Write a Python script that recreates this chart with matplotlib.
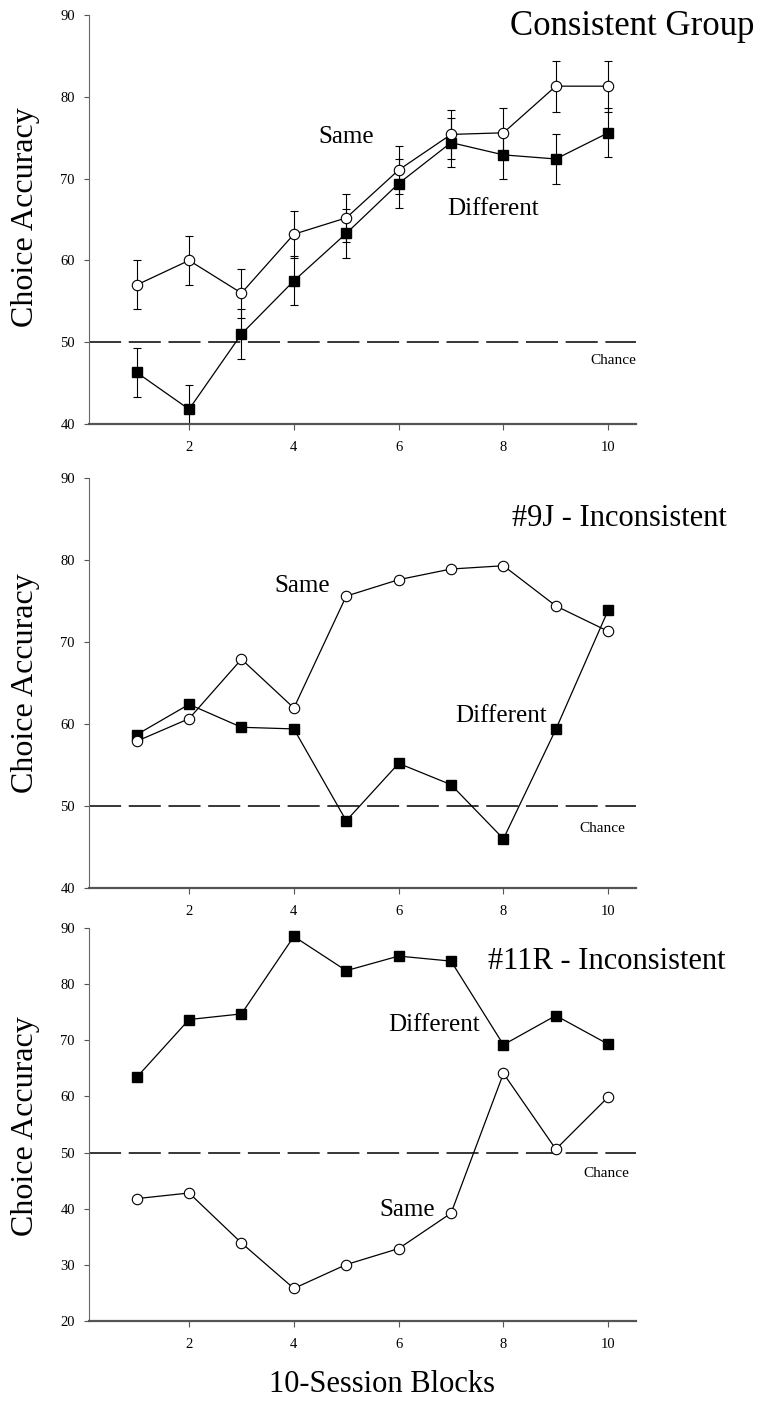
import numpy as np
import matplotlib
matplotlib.use("Agg")
import matplotlib.pyplot as plt

plt.rcParams['font.family'] = ['Liberation Serif', 'DejaVu Serif']

blocks = [1, 2, 3, 4, 5, 6, 7, 8, 9, 10]

# Consistent group (mean +/- SEM)
cons_same = [57.0, 60.0, 56.0, 63.2, 65.2, 71.05, 75.4, 75.6, 81.3, 81.3]
cons_same_err = [3.0, 3.0, 3.0, 2.9, 2.9, 2.9, 3.0, 3.0, 3.1, 3.1]
cons_diff = [46.3, 41.8, 51.0, 57.5, 63.3, 69.4, 74.4, 72.9, 72.4, 75.6]
cons_diff_err = [3.0, 3.0, 3.0, 3.0, 3.0, 3.0, 3.0, 3.0, 3.0, 3.0]

# #9J
j9_same = [57.9, 60.65, 67.9, 61.95, 75.6, 77.6, 78.9, 79.3, 74.4, 71.3]
j9_diff = [58.7, 62.4, 59.6, 59.4, 48.2, 55.2, 52.6, 46.0, 59.35, 73.9]

# #11R
r11_same = [41.8, 42.8, 33.9, 25.8, 30.05, 32.9, 39.2, 64.1, 50.6, 59.9]
r11_diff = [63.4, 73.7, 74.7, 88.5, 82.4, 85.0, 84.1, 69.2, 74.4, 69.3]

xticks = [2, 4, 6, 8, 10]

fig = plt.figure(figsize=(7.58, 14.24), dpi=100)

L, W = 89 / 758, 547 / 758
ax1 = fig.add_axes([L, 1 - 424 / 1424, W, 409 / 1424])
ax2 = fig.add_axes([L, 1 - 888 / 1424, W, 410 / 1424])
ax3 = fig.add_axes([L, 1 - 1321 / 1424, W, 393 / 1424])


def style_axes(ax, ylo, yhi, ycenter_px):
    ax.set_xlim(0.09, 10.53)
    ax.set_ylim(ylo, yhi)
    ax.set_xticks(xticks)
    ax.set_yticks(np.arange(ylo, yhi + 1, 10))
    ax.spines['top'].set_visible(False)
    ax.spines['right'].set_visible(False)
    ax.spines['left'].set_color('#666666')
    ax.spines['left'].set_linewidth(0.8)
    ax.spines['bottom'].set_color('#555555')
    ax.spines['bottom'].set_linewidth(1.6)
    ax.tick_params(axis='y', direction='out', length=3.6, width=0.8,
                   color='#555555', pad=6.5, labelsize=10.5)
    ax.tick_params(axis='x', direction='out', length=4.3, width=0.8,
                   color='#555555', pad=8, labelsize=10.5)
    ax.axhline(50, color='black', lw=1.1, dashes=(21, 5), zorder=1)
    fig.text(25.5 / 758, 1 - ycenter_px / 1424, "Choice Accuracy", rotation=90,
             ha='center', va='center', fontsize=23)


def draw(ax, same, diff, same_err=None, diff_err=None):
    if same_err is not None:
        ax.errorbar(blocks, diff, yerr=diff_err, fmt='none', ecolor='black',
                    elinewidth=0.8, capsize=2.6, capthick=0.8, zorder=2)
        ax.errorbar(blocks, same, yerr=same_err, fmt='none', ecolor='black',
                    elinewidth=0.8, capsize=2.6, capthick=0.8, zorder=2)
    ax.plot(blocks, diff, color='black', lw=0.9, marker='s', ms=7,
            mfc='black', mec='black', zorder=3)
    ax.plot(blocks, same, color='black', lw=0.9, marker='o', ms=7.5,
            mfc='white', mec='black', mew=0.8, zorder=4)


style_axes(ax1, 40, 90, 217)
draw(ax1, cons_same, cons_diff, cons_same_err, cons_diff_err)
ax1.text(1.216, 0.971, "Consistent Group", transform=ax1.transAxes,
         ha='right', va='center', fontsize=25, clip_on=False)
ax1.text(4.99, 75.1, "Same", ha='center', va='center', fontsize=18)
ax1.text(7.80, 66.3, "Different", ha='center', va='center', fontsize=18)
ax1.text(10.1, 47.8, "Chance", ha='center', va='center', fontsize=11, clip_on=False)

style_axes(ax2, 40, 90, 683)
draw(ax2, j9_same, j9_diff)
ax2.text(1.166, 0.902, "#9J - Inconsistent", transform=ax2.transAxes,
         ha='right', va='center', fontsize=22, clip_on=False)
ax2.text(4.15, 76.8, "Same", ha='center', va='center', fontsize=18)
ax2.text(7.95, 61.0, "Different", ha='center', va='center', fontsize=18)
ax2.text(9.88, 47.2, "Chance", ha='center', va='center', fontsize=11, clip_on=False)

style_axes(ax3, 20, 90, 1126)
draw(ax3, r11_same, r11_diff)
ax3.text(1.163, 0.916, "#11R - Inconsistent", transform=ax3.transAxes,
         ha='right', va='center', fontsize=22, clip_on=False)
ax3.text(6.67, 72.7, "Different", ha='center', va='center', fontsize=18)
ax3.text(6.16, 39.8, "Same", ha='center', va='center', fontsize=18)
ax3.text(9.97, 46.2, "Chance", ha='center', va='center', fontsize=11, clip_on=False)

fig.text(0.504, 1 - 1384 / 1424, "10-Session Blocks", ha='center', va='center',
         fontsize=22)

fig.savefig("out.png", dpi=100)
